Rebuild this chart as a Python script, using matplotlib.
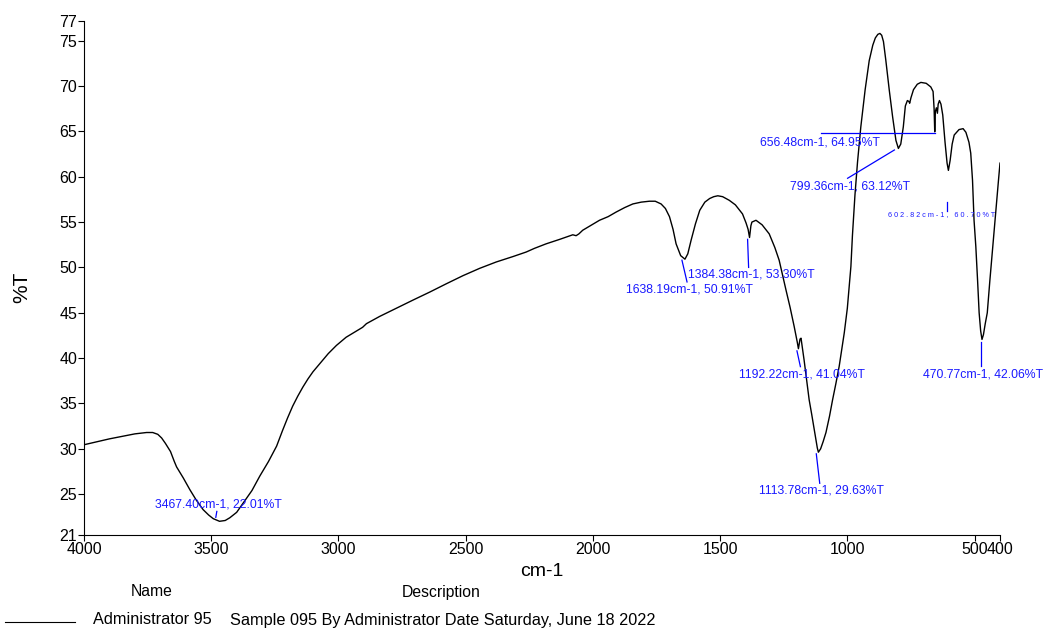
import matplotlib
matplotlib.use('Agg')
import matplotlib.pyplot as plt
from matplotlib.lines import Line2D

plt.rcParams['font.family'] = ['Liberation Sans', 'DejaVu Sans']

# === SPECTRUM ===
wavenumber = [
    4000, 3900, 3800, 3754, 3730, 3710, 3695, 3680, 3660, 3645, 3636, 3610,
    3584, 3560, 3532, 3510, 3492, 3467.4, 3445, 3427, 3400, 3375, 3340, 3309,
    3275, 3243, 3220, 3200, 3180, 3160, 3140, 3120, 3100, 3073, 3040, 3008,
    2970, 2929, 2905, 2890, 2838, 2780, 2707, 2640, 2576,
    2510, 2445, 2380, 2314, 2262, 2230, 2184, 2130, 2079, 2066, 2055, 2040,
    2010, 1974, 1940, 1909, 1875, 1843, 1810, 1778, 1755, 1732, 1715, 1699,
    1685, 1673, 1655, 1638.19, 1627, 1614, 1597, 1580, 1560, 1541, 1525, 1509,
    1490, 1464, 1440, 1412, 1398, 1390, 1384.38, 1379, 1375, 1359, 1335, 1307,
    1285, 1268, 1241, 1225, 1209, 1197, 1192.22, 1186, 1182, 1176, 1170, 1160,
    1150, 1140, 1130, 1125, 1118, 1113.78, 1105, 1095, 1084, 1070, 1058, 1045,
    1032, 1020, 1012, 1000, 986, 980, 970, 960, 947, 930, 914, 900, 890, 880,
    872, 865, 858, 849, 835, 822, 809, 799.36, 790, 780, 772, 764, 758, 755,
    750, 740, 725, 711, 690, 672, 663, 659, 656.48, 654, 650, 646, 643, 638,
    632, 625, 616, 608, 602.82, 596, 588, 580, 561, 545, 534, 522, 515, 508,
    502, 495, 488, 482, 476, 470.77, 465, 458, 450, 440, 430, 417, 406, 400,
]
transmittance = [
    30.45, 31.1, 31.65, 31.8, 31.8, 31.6, 31.2, 30.6, 29.7, 28.6, 28.0, 26.8,
    25.5, 24.4, 23.3, 22.7, 22.3, 22.01, 22.1, 22.4, 23.0, 24.0, 25.4, 27.0,
    28.6, 30.3, 32.0, 33.4, 34.7, 35.8, 36.8, 37.7, 38.5, 39.4, 40.5, 41.4,
    42.3, 43.0, 43.4, 43.8, 44.6, 45.4, 46.4, 47.3, 48.2,
    49.1, 49.9, 50.6, 51.2, 51.7, 52.1, 52.6, 53.1, 53.6, 53.5, 53.7, 54.1,
    54.6, 55.2, 55.6, 56.1, 56.6, 57.0, 57.2, 57.3, 57.3, 57.0, 56.5, 55.6,
    54.2, 52.6, 51.3, 50.91, 51.5, 53.0, 54.8, 56.3, 57.2, 57.6, 57.8, 57.9,
    57.8, 57.4, 56.9, 55.9, 54.9, 54.2, 53.30, 54.6, 55.0, 55.2, 54.7, 53.7,
    52.2, 50.8, 47.5, 45.6, 43.5, 41.8, 41.04, 42.1, 42.2, 41.0, 39.8, 37.6,
    35.4, 33.8, 32.1, 31.3, 30.1, 29.63, 30.0, 30.8, 31.8, 33.6, 35.4, 37.2,
    39.1, 41.3, 42.8, 45.5, 50.1, 53.5, 58.0, 61.6, 65.5, 69.6, 72.8, 74.5, 75.3, 75.7,
    75.8, 75.6, 74.9, 72.9, 69.5, 66.6, 64.0, 63.12, 63.6, 65.5, 67.8, 68.4, 68.3, 68.1,
    68.7, 69.6, 70.2, 70.4, 70.3, 69.9, 69.4, 67.5, 64.95, 67.2, 67.6, 67.0, 68.0, 68.4,
    68.0, 66.8, 63.8, 61.5, 60.70, 61.8, 63.6, 64.6, 65.2, 65.3, 64.9, 63.8, 62.6, 59.6,
    55.2, 52.3, 48.5, 45.0, 43.0, 42.06, 42.6, 43.8, 45.0, 48.5, 51.8, 56.0, 59.6, 61.5,
]

# === PEAK PICKS ===
peak_wn = [3467.40, 1638.19, 1384.38, 1192.22, 1113.78, 470.77, 799.36, 656.48, 602.82]
peak_t = [22.01, 50.91, 53.30, 41.04, 29.63, 42.06, 63.12, 64.95, 60.70]

# where each label sits and its leader line (data units)
label_xy = [(3721, 23.9), (1869, 47.6), (1628, 49.17), (1427, 38.22), (1348, 25.39),
            (703.5, 38.22), (1226, 58.9), (1344, 63.8), (840, 55.86)]
leader = [((3478, 23.1), (3482, 22.45)), ((1650, 50.8), (1630, 48.4)),
          ((1392, 53.1), (1388, 50.0)), ((1198, 40.8), (1184.5, 39.06)),
          ((1122, 29.45), (1108.5, 26.2)), ((475.5, 41.8), (475.5, 39.14)),
          ((815, 62.95), (999, 59.83)), ((1102, 64.79), (654, 64.79)),
          ((608, 57.25), (608, 56.26))]

x_ticks = [4000, 3500, 3000, 2500, 2000, 1500, 1000, 500, 400]
y_lim = (20.5, 77.17)
y_ticks = [20.5, 25, 30, 35, 40, 45, 50, 55, 60, 65, 70, 75, 77.17]
y_ticklabels = ['21', '25', '30', '35', '40', '45', '50', '55', '60', '65', '70', '75', '77']

# === PLOT ===
fig = plt.figure(figsize=(10.43, 6.30), dpi=100)
ax = fig.add_axes([84 / 1043, 95 / 630, 916 / 1043, 514 / 630])

ax.plot(wavenumber, transmittance, color='black', lw=1.0)

ax.set_xlim(4000, 400)
ax.set_ylim(*y_lim)
ax.set_xticks(x_ticks)
ax.set_xticklabels([str(t) for t in x_ticks])
ax.set_yticks(y_ticks)
ax.set_yticklabels(y_ticklabels)
ax.tick_params(direction='out', length=4, width=0.8, labelsize=11.5, pad=1)
ax.spines[['top', 'right']].set_visible(False)
for s in ['left', 'bottom']:
    ax.spines[s].set_linewidth(0.8)

blue = '#1a1aff'
for i, (wn, t) in enumerate(zip(peak_wn, peak_t)):
    (x0, y0), (x1, y1) = leader[i]
    ax.plot([x0, x1], [y0, y1], color='blue', lw=0.9)
    lx, ly = label_xy[i]
    txt = f'{wn:.2f}cm-1, {t:.2f}%T'
    if i == len(peak_wn) - 1:
        # squashed label in the reference
        ax.text(lx, ly, ' '.join(txt), fontsize=5.2, color=blue, ha='left', va='center')
    else:
        ax.text(lx, ly, txt, fontsize=8.8, color=blue, ha='left', va='center')

fig.text(542 / 1043, 1 - 572 / 630, 'cm-1', fontsize=14, ha='center', va='center')
fig.text(22 / 1043, 1 - 287 / 630, '%T', fontsize=15, rotation=90, ha='center', va='center')

# footer legend
fig.text(152 / 1043, 1 - 592 / 630, 'Name', fontsize=11.3, ha='center', va='center')
fig.text(441 / 1043, 1 - 592 / 630, 'Description', fontsize=11.3, ha='center', va='center')
fig.add_artist(Line2D([5 / 1043, 75 / 1043], [1 - 622 / 630, 1 - 622 / 630],
                      color='black', lw=0.8, transform=fig.transFigure))
fig.text(93 / 1043, 1 - 620 / 630, 'Administrator 95', fontsize=11.7, ha='left', va='center')
fig.text(230 / 1043, 1 - 620 / 630, 'Sample 095 By Administrator Date Saturday, June 18 2022',
         fontsize=11.7, ha='left', va='center')

fig.savefig('out.png', dpi=100, facecolor='white')
